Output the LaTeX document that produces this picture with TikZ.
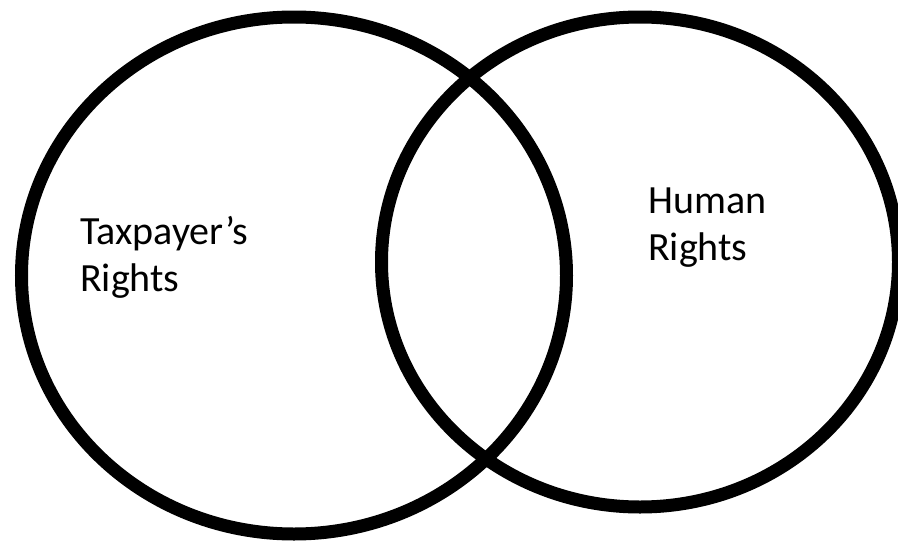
\documentclass[tikz,border=0pt]{standalone}
\usepackage{fontspec}
\setmainfont{Carlito}
\usepackage{tikz}
\usetikzlibrary{positioning}

\begin{document}
\begin{tikzpicture}[
		x=1pt, y=-1pt,
		ring/.style={line width=13pt, black},
		label/.style={anchor=base west, inner sep=0pt, align=left, font=\fontsize{40}{47}\selectfont}
	]
	% 画布
	\useasboundingbox (0,0) rectangle (898,541);

	% 圆心
	\coordinate (ctax) at (294,275.5);
	\coordinate (chum) at (640,262);

	% 两个圆
	\draw[ring] (ctax) ellipse (272.5pt and 258.5pt);
	\draw[ring] (chum) ellipse (258.5pt and 245pt);

	% 文字
	\node[label] (taxtext) at (80,291) {Taxpayer’s\\Rights};
	\node[label] (humtext) at (648,260) {Human\\Rights};
\end{tikzpicture}
\end{document}
